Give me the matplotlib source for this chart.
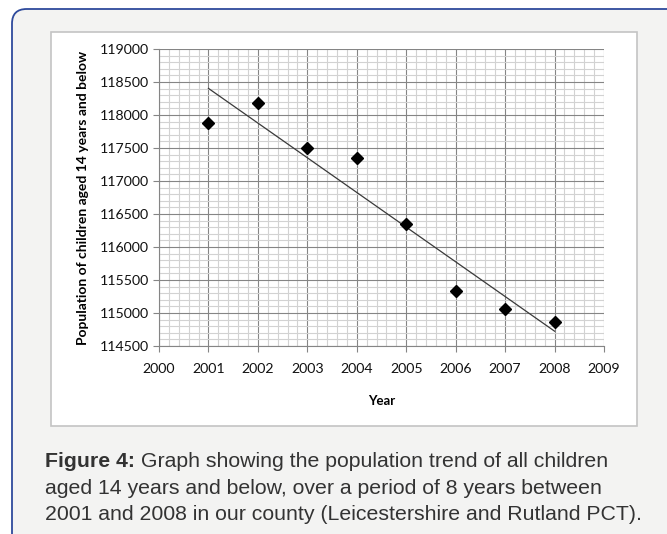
#!/usr/bin/env python3
"""
Population of children aged 14 and below, 2001-2008, with linear trend line.
"""
import matplotlib
matplotlib.use("Agg")
import matplotlib.pyplot as plt
import numpy as np
from matplotlib.patches import FancyBboxPatch, Rectangle
from matplotlib.ticker import MultipleLocator

years = [2001, 2002, 2003, 2004, 2005, 2006, 2007, 2008]
population = [117874, 118177, 117505, 117348, 116344, 115333, 115066, 114864]

y_ticks = [114500, 115000, 115500, 116000, 116500, 117000, 117500, 118000, 118500, 119000]
x_ticks = [2000, 2001, 2002, 2003, 2004, 2005, 2006, 2007, 2008, 2009]

caption_bold = "Figure 4:"
caption_lines = [
    " Graph showing the population trend of all children",
    "aged 14 years and below, over a period of 8 years between",
    "2001 and 2008 in our county (Leicestershire and Rutland PCT).",
]

W, H = 667, 534


def px(x, y):
    # pixel coords (top-left origin) -> figure fraction
    return x / W, 1 - y / H


fig = plt.figure(figsize=(W / 100, H / 100), dpi=100)
fig.patch.set_facecolor("white")

# outer rounded card
card = FancyBboxPatch((12 / W, -20 / H), 700 / W, (H - 9 + 20) / H,
                      boxstyle="round,pad=0,rounding_size=0.022",
                      transform=fig.transFigure, facecolor="#f3f3f2",
                      edgecolor="#2e4a9c", linewidth=1.3, zorder=0,
                      mutation_aspect=W / H)
fig.patches.append(card)

# white chart panel
x0, y0 = px(51, 426)
panel = Rectangle((x0, y0), (637 - 51) / W, (426 - 32) / H,
                  transform=fig.transFigure, facecolor="white",
                  edgecolor="#c4c4c4", linewidth=1.2, zorder=1)
fig.patches.append(panel)

ax = fig.add_axes([159 / W, 1 - 346 / H, (604 - 159) / W, (346 - 49) / H])
ax.set_zorder(2)
ax.set_facecolor("white")

ax.set_xlim(2000, 2009)
ax.set_ylim(114500, 119000)
ax.set_xticks(x_ticks)
ax.set_yticks(y_ticks)
ax.xaxis.set_minor_locator(MultipleLocator(0.2))
ax.yaxis.set_minor_locator(MultipleLocator(100))

ax.grid(which="minor", color="#d2d2d2", linewidth=0.8)
ax.grid(which="major", color="#858585", linewidth=0.8)
ax.set_axisbelow(True)

for side in ["top", "right"]:
    ax.spines[side].set_visible(False)
for side in ["left", "bottom"]:
    ax.spines[side].set_color("#858585")
    ax.spines[side].set_linewidth(0.8)

ax.tick_params(which="major", direction="out", length=4, width=0.8,
               color="#858585", labelsize=10.2)
ax.tick_params(axis="x", which="major", pad=8.5)
ax.tick_params(axis="y", which="major", pad=3)
ax.tick_params(which="minor", length=0)
for lab in ax.get_xticklabels() + ax.get_yticklabels():
    lab.set_fontfamily("Lato")
    lab.set_color("#111111")

# trend line (least squares fit of the data)
slope, intercept = np.polyfit(years, population, 1)
trend_x = np.array([years[0], years[-1]])
ax.plot(trend_x, slope * trend_x + intercept, color="#3a3a3a",
        linewidth=0.9, zorder=3)

ax.plot(years, population, linestyle="none", marker="D", markersize=6.5,
        color="black", zorder=4, clip_on=False)

ax.set_xlabel("Year", fontfamily="Lato", fontweight="bold", fontsize=9.5,
              labelpad=14)
ax.set_ylabel("Population of children aged 14 years and below",
              fontfamily="Lato", fontweight="bold", fontsize=10, labelpad=8)

# caption
cap_size = 15.3
cx, cy = px(45, 467)
t1 = fig.text(cx, cy, caption_bold, fontfamily="Liberation Sans",
              fontweight="bold", fontsize=cap_size, color="#333333",
              va="baseline")
ax.annotate(caption_lines[0], xy=(1, 0), xycoords=t1, va="bottom",
            fontfamily="Liberation Sans", fontsize=cap_size, color="#333333",
            annotation_clip=False)
for i, line in enumerate(caption_lines[1:]):
    lx, ly = px(45, 493.5 + 26.5 * i)
    fig.text(lx, ly, line, fontfamily="Liberation Sans", fontsize=cap_size,
             color="#333333", va="baseline")

fig.savefig("out.png", dpi=100)
